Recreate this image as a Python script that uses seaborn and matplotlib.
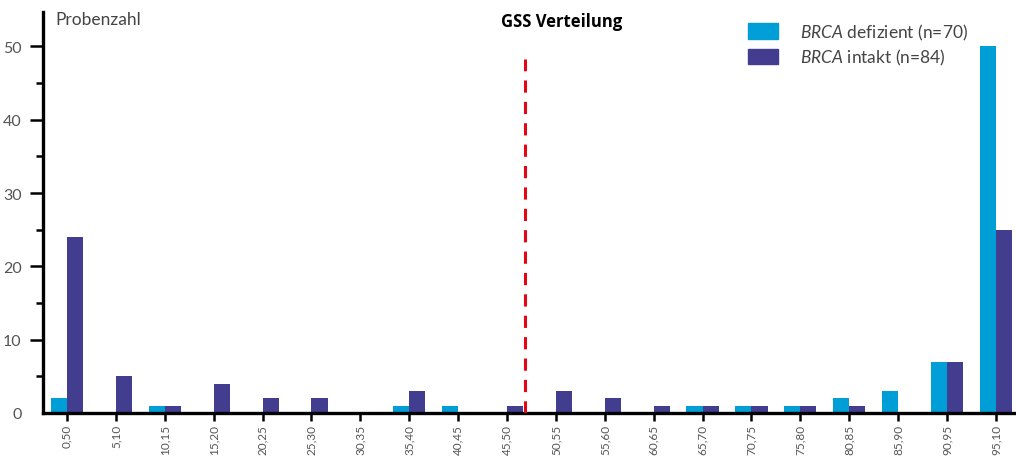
import matplotlib
matplotlib.use("Agg")
import matplotlib.pyplot as plt
import matplotlib.patches as mpatches
import seaborn as sns
import pandas as pd

# GSS bins (tick labels as shown) and sample counts per group
bins = ["0,50", "5,10", "10,15", "15,20", "20,25", "25,30", "30,35", "35,40",
        "40,45", "45,50", "50,55", "55,60", "60,65", "65,70", "70,75", "75,80",
        "80,85", "85,90", "90,95", "95,10"]
brca_defizient = [2, 0, 1, 0, 0, 0, 0, 1, 1, 0, 0, 0, 0, 1, 1, 1, 2, 3, 7, 50]
brca_intakt = [24, 5, 1, 4, 2, 2, 0, 3, 0, 1, 3, 2, 1, 1, 1, 1, 1, 0, 7, 25]
groups = ["defizient", "intakt"]
legend_labels = [r"$\mathit{BRCA}$ defizient (n=70)", r"$\mathit{BRCA}$ intakt (n=84)"]
threshold_pos = 9.37  # position of the GSS cut-off between bins

colors = {"defizient": "#009ED6", "intakt": "#423D8F"}

sns.set_style("white")
font = ["Lato", "DejaVu Sans"]
plt.rcParams["font.family"] = font
plt.rcParams["mathtext.fontset"] = "custom"
plt.rcParams["mathtext.it"] = "Lato:italic"
plt.rcParams["mathtext.rm"] = "Lato"

df = pd.DataFrame({
    "bin": bins * 2,
    "group": [groups[0]] * len(bins) + [groups[1]] * len(bins),
    "count": brca_defizient + brca_intakt,
})

fig = plt.figure(figsize=(10.16, 4.6), dpi=100)
ax = fig.add_axes([43 / 1016, 46 / 460, 1 - 44 / 1016, 401 / 460])

sns.barplot(data=df, x="bin", y="count", hue="group", hue_order=groups,
            order=bins, palette=colors, width=0.66, saturation=1,
            dodge=True, legend=False, linewidth=0, ax=ax)

ax.set_xlim(-0.49, 19.39)
ax.set_ylim(0, 54.7)
ax.set_xlabel("")
ax.set_ylabel("")

for side in ["top", "right"]:
    ax.spines[side].set_visible(False)
for side in ["left", "bottom"]:
    ax.spines[side].set_linewidth(2.4)
    ax.spines[side].set_color("black")

ax.set_yticks([0, 10, 20, 30, 40, 50])
ax.set_yticks([5, 15, 25, 35, 45], minor=True)
ax.tick_params(axis="y", which="major", direction="out", length=9.5, width=1.8,
               color="black", labelsize=11.5, labelcolor="#555555", pad=6, left=True)
ax.tick_params(axis="y", which="minor", direction="out", length=5, width=1.8,
               color="black", left=True)
ax.yaxis.get_major_ticks()[0].tick1line.set_visible(False)

ax.tick_params(axis="x", direction="out", length=6, width=1.8, color="black",
               labelsize=8.5, labelcolor="#555555", pad=2, bottom=True)
plt.setp(ax.get_xticklabels(), rotation=90, va="top", ha="center")

# GSS cut-off line
ax.plot([threshold_pos, threshold_pos], [0, 48.3], color="#E30613",
        linewidth=2.2, linestyle=(0, (4, 3)), zorder=5)

fig.text(55 / 1016, 1 - 20 / 460, "Probenzahl", fontsize=12.5, color="#444444",
         ha="left", va="center")
fig.text(562 / 1016, 1 - 22 / 460, "GSS Verteilung", fontsize=12,
         fontweight="bold", color="black", ha="center", va="center",
         family=["Open Sans", "DejaVu Sans"])

handles = [mpatches.Patch(color=colors[g]) for g in groups]
fig.legend(handles, legend_labels, loc="upper left",
           bbox_to_anchor=(732 / 1016, 1 - 7 / 460), frameon=False,
           fontsize=12.5, handlelength=1.75, handleheight=1.0,
           handletextpad=1.25, labelspacing=0.3, labelcolor="#444444")

fig.savefig("out.png", dpi=100)
